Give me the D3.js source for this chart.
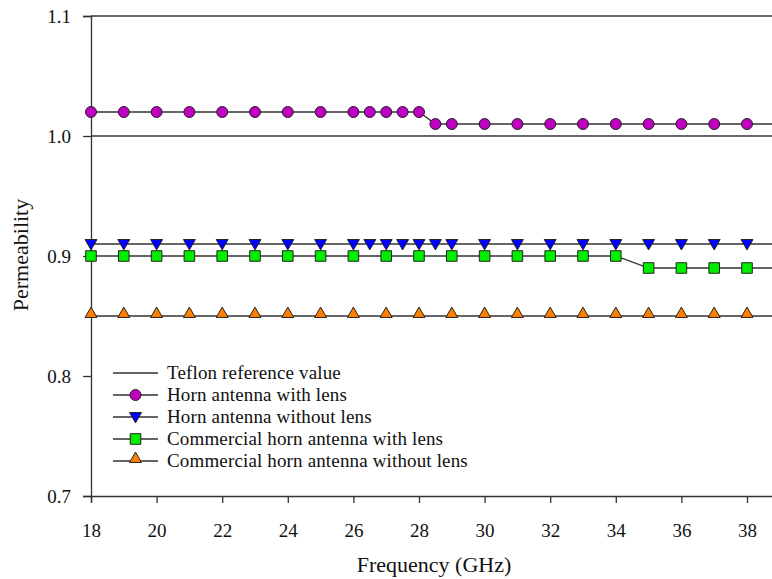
<!DOCTYPE html>
<html>
<head>
<meta charset="utf-8">
<script src="https://d3js.org/d3.v7.min.js"></script>
<style>
  body { margin: 0; background: #fff; }
  text { font-family: "Liberation Serif", "Times New Roman", serif; fill: #111; }
</style>
</head>
<body>
<script>
// frequencies (GHz) for the horn antenna series
var freqHorn = [18, 19, 20, 21, 22, 23, 24, 25, 26, 26.5, 27, 27.5, 28, 28.5, 29,
                30, 31, 32, 33, 34, 35, 36, 37, 38, 39, 40];
var hornWithLens = [1.02, 1.02, 1.02, 1.02, 1.02, 1.02, 1.02, 1.02, 1.02, 1.02, 1.02, 1.02, 1.02, 1.01, 1.01,
                    1.01, 1.01, 1.01, 1.01, 1.01, 1.01, 1.01, 1.01, 1.01, 1.01, 1.01];
var hornWithoutLens = [0.91, 0.91, 0.91, 0.91, 0.91, 0.91, 0.91, 0.91, 0.91, 0.91, 0.91, 0.91, 0.91, 0.91, 0.91,
                       0.91, 0.91, 0.91, 0.91, 0.91, 0.91, 0.91, 0.91, 0.91, 0.91, 0.91];

// frequencies (GHz) for the commercial horn series
var freqComm = [18, 19, 20, 21, 22, 23, 24, 25, 26, 27, 28, 29, 30, 31, 32, 33, 34, 35, 36, 37, 38, 39, 40];
var commWithLens = [0.90, 0.90, 0.90, 0.90, 0.90, 0.90, 0.90, 0.90, 0.90, 0.90, 0.90, 0.90, 0.90, 0.90,
                    0.90, 0.90, 0.90, 0.89, 0.89, 0.89, 0.89, 0.89, 0.89];
var commWithoutLens = [0.85, 0.85, 0.85, 0.85, 0.85, 0.85, 0.85, 0.85, 0.85, 0.85, 0.85, 0.85, 0.85, 0.85,
                       0.85, 0.85, 0.85, 0.85, 0.85, 0.85, 0.85, 0.85, 0.85];

// Teflon reference
var teflonFreq = [18, 40];
var teflonValue = [1.0, 1.0];

var xTicks = [18, 20, 22, 24, 26, 28, 30, 32, 34, 36, 38];
var yTicks = [0.7, 0.8, 0.9, 1.0, 1.1];

var W = 772, H = 579;
var plotLeft = 91, plotTop = 16, plotBottom = 496;

var svg = d3.select("body").append("svg")
    .attr("width", W)
    .attr("height", H);

svg.append("rect").attr("width", W).attr("height", H).attr("fill", "#fff");

// plot runs past the right edge of the picture (cropped like the original)
var x = d3.scaleLinear().domain([18, 40]).range([plotLeft, plotLeft + 22 * 32.8]);
var y = d3.scaleLinear().domain([0.7, 1.1]).range([plotBottom, plotTop]);

var lineColor = "#333";

// top frame line
svg.append("line")
    .attr("x1", x(18)).attr("x2", x(40))
    .attr("y1", y(1.1)).attr("y2", y(1.1))
    .attr("stroke", lineColor).attr("stroke-width", 1.3);

// axes
var yAxis = svg.append("g")
    .attr("transform", "translate(" + plotLeft + ",0)")
    .call(d3.axisLeft(y).tickValues(yTicks).tickSize(8).tickPadding(12)
        .tickFormat(d3.format(".1f")));
var xAxis = svg.append("g")
    .attr("transform", "translate(0," + plotBottom + ")")
    .call(d3.axisBottom(x).tickValues(xTicks).tickSize(7).tickPadding(21)
        .tickFormat(d3.format("d")));

[yAxis, xAxis].forEach(function (g) {
    g.select(".domain").attr("stroke", lineColor).attr("stroke-width", 1.3);
    g.selectAll(".tick line").attr("stroke", lineColor).attr("stroke-width", 1.3);
    g.selectAll(".tick text").attr("font-size", 19)
        .style("font-family", "'Liberation Serif', serif").attr("fill", "#111");
});
yAxis.selectAll(".tick text").attr("dy", "0.34em");
xAxis.selectAll(".tick text").attr("dy", "0.69em");

// axis titles
svg.append("text")
    .attr("transform", "translate(28,255) rotate(-90)")
    .attr("text-anchor", "middle")
    .attr("font-size", 22)
    .text("Permeability");
svg.append("text")
    .attr("x", 434).attr("y", 572)
    .attr("text-anchor", "middle")
    .attr("font-size", 22)
    .text("Frequency (GHz)");

// series
var series = [
    { name: "Horn antenna with lens", xs: freqHorn, ys: hornWithLens, shape: "circle", color: "#c000c0" },
    { name: "Horn antenna without lens", xs: freqHorn, ys: hornWithoutLens, shape: "down", color: "#0000ff" },
    { name: "Commercial horn antenna with lens", xs: freqComm, ys: commWithLens, shape: "square", color: "#00ee00" },
    { name: "Commercial horn antenna without lens", xs: freqComm, ys: commWithoutLens, shape: "up", color: "#ff8000" }
];

var symbolFor = {
    circle: d3.symbol().type(d3.symbolCircle).size(95),
    square: d3.symbol().type(d3.symbolSquare).size(112),
    up: d3.symbol().type(d3.symbolTriangle).size(62),
    down: d3.symbol().type(d3.symbolTriangle).size(62)
};

var line = d3.line().x(function (d) { return x(d[0]); }).y(function (d) { return y(d[1]); });

// Teflon reference line
svg.append("path")
    .datum(d3.zip(teflonFreq, teflonValue))
    .attr("d", line)
    .attr("fill", "none").attr("stroke", lineColor).attr("stroke-width", 1.3);

function drawMarker(g, s, px, py) {
    g.append("path")
        .attr("d", symbolFor[s.shape]())
        .attr("transform", "translate(" + px + "," + py + ")" + (s.shape === "down" ? " rotate(180)" : ""))
        .attr("fill", s.color)
        .attr("stroke", "#222")
        .attr("stroke-width", 1);
}

series.forEach(function (s) {
    var pts = d3.zip(s.xs, s.ys);
    svg.append("path")
        .datum(pts)
        .attr("d", line)
        .attr("fill", "none").attr("stroke", lineColor).attr("stroke-width", 1.3);
    var g = svg.append("g");
    pts.forEach(function (p) {
        drawMarker(g, s, x(p[0]), y(p[1]) + (s.shape === "down" ? -1 : s.shape === "up" ? -2 : 0));
    });
});

// legend
var legend = svg.append("g");
var rowY = [373, 395, 417, 439, 461];
legend.append("line")
    .attr("x1", 113).attr("x2", 158).attr("y1", rowY[0]).attr("y2", rowY[0])
    .attr("stroke", lineColor).attr("stroke-width", 1.3);
legend.append("text")
    .attr("x", 167).attr("y", rowY[0]).attr("dy", "0.33em")
    .attr("font-size", 19).attr("letter-spacing", 0.15).text("Teflon reference value");
series.forEach(function (s, i) {
    var yy = rowY[i + 1];
    legend.append("line")
        .attr("x1", 113).attr("x2", 158).attr("y1", yy).attr("y2", yy)
        .attr("stroke", lineColor).attr("stroke-width", 1.3);
    drawMarker(legend, s, 135.5, yy + (s.shape === "down" ? -1 : s.shape === "up" ? -2 : 0));
    legend.append("text")
        .attr("x", 167).attr("y", yy).attr("dy", "0.33em")
        .attr("font-size", 19).attr("letter-spacing", 0.15).text(s.name);
});
</script>
</body>
</html>
